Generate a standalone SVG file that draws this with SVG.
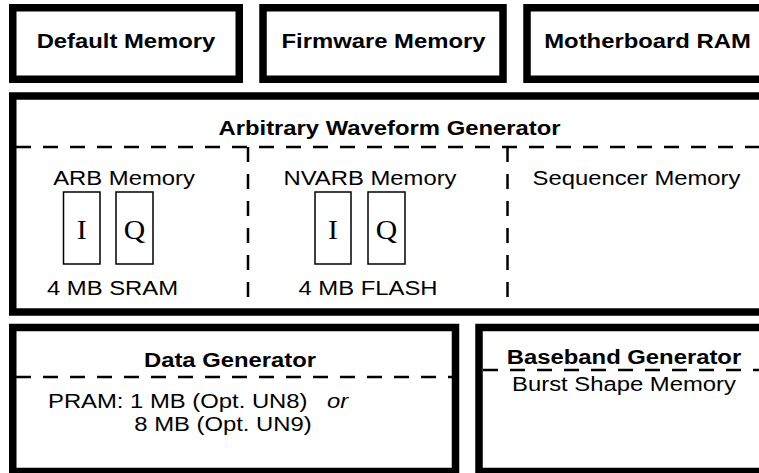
<svg xmlns="http://www.w3.org/2000/svg" width="759" height="473" viewBox="0 0 759 473">
<style>
.box{fill:#fff;stroke:#000;stroke-width:7.5}
.iq{fill:#fff;stroke:#000;stroke-width:1.5}
.dash{fill:none;stroke:#000;stroke-width:2.5;stroke-dasharray:15 12}
.b{font-family:"Liberation Sans",Arial,sans-serif;font-weight:bold;font-size:21px;text-anchor:middle;fill:#000}
.r{font-family:"Liberation Sans",Arial,sans-serif;font-size:21px;text-anchor:middle;fill:#000}
.s{font-family:"Liberation Serif","Times New Roman",serif;font-size:27px;text-anchor:middle;fill:#000}
</style>
<rect width="759" height="473" fill="#fff"/>
<g id="default-memory">
<rect class="box" x="12.75" y="7.75" width="226.5" height="71.5"/>
<text class="b" transform="translate(126,48) scale(1.135,1)">Default Memory</text>
</g>
<g id="firmware-memory">
<rect class="box" x="263" y="7.75" width="240" height="71.5"/>
<text class="b" transform="translate(383.5,48) scale(1.135,1)">Firmware Memory</text>
</g>
<g id="motherboard-ram">
<rect class="box" x="527" y="7.75" width="245" height="71.5"/>
<text class="b" transform="translate(647.5,48) scale(1.135,1)">Motherboard RAM</text>
</g>
<g id="awg">
<rect class="box" x="12.75" y="96" width="760" height="216"/>
<text class="b" transform="translate(389.5,135) scale(1.135,1)">Arbitrary Waveform Generator</text>
</g>
<g id="arb-memory">
<text class="r" transform="translate(124,185) scale(1.135,1)">ARB Memory</text>
<rect class="iq" x="63.5" y="192" width="36.5" height="72"/>
<text class="s" transform="translate(81.75,239) scale(1.1,1)">I</text>
<rect class="iq" x="116" y="192" width="37" height="72"/>
<text class="s" transform="translate(134.5,239) scale(1.1,1)">Q</text>
<text class="r" transform="translate(112.5,295) scale(1.135,1)">4 MB SRAM</text>
</g>
<g id="nvarb-memory">
<text class="r" transform="translate(370,185) scale(1.135,1)">NVARB Memory</text>
<rect class="iq" x="315" y="192" width="36" height="72"/>
<text class="s" transform="translate(333,239) scale(1.1,1)">I</text>
<rect class="iq" x="368" y="192" width="37" height="72"/>
<text class="s" transform="translate(386.5,239) scale(1.1,1)">Q</text>
<text class="r" transform="translate(368,295) scale(1.135,1)">4 MB FLASH</text>
</g>
<g id="sequencer-memory">
<text class="r" transform="translate(636.5,185) scale(1.135,1)">Sequencer Memory</text>
</g>
<g id="data-generator">
<rect class="box" x="12.75" y="327.5" width="442.75" height="144"/>
<text class="b" transform="translate(230,367) scale(1.135,1)">Data Generator</text>
<text class="r" transform="translate(48,408) scale(1.135,1)" style="text-anchor:start">PRAM: 1 MB (Opt. UN8)</text>
<text class="r" transform="translate(327,408) scale(1.135,1)" style="text-anchor:start;font-style:italic">or</text>
<text class="r" transform="translate(223,431) scale(1.135,1)">8 MB (Opt. UN9)</text>
</g>
<g id="baseband-generator">
<rect class="box" x="479" y="327.5" width="290" height="144"/>
<text class="b" transform="translate(624,364) scale(1.135,1)">Baseband Generator</text>
<text class="r" transform="translate(624,391) scale(1.135,1)">Burst Shape Memory</text>
</g>
<g id="connectors">
<path class="dash" d="M16 147H759"/>
<path class="dash" d="M248 147V308"/>
<path class="dash" d="M507.5 147V308"/>
<path class="dash" d="M16 377H452"/>
<path class="dash" d="M483 370H759"/>
</g>
</svg>
